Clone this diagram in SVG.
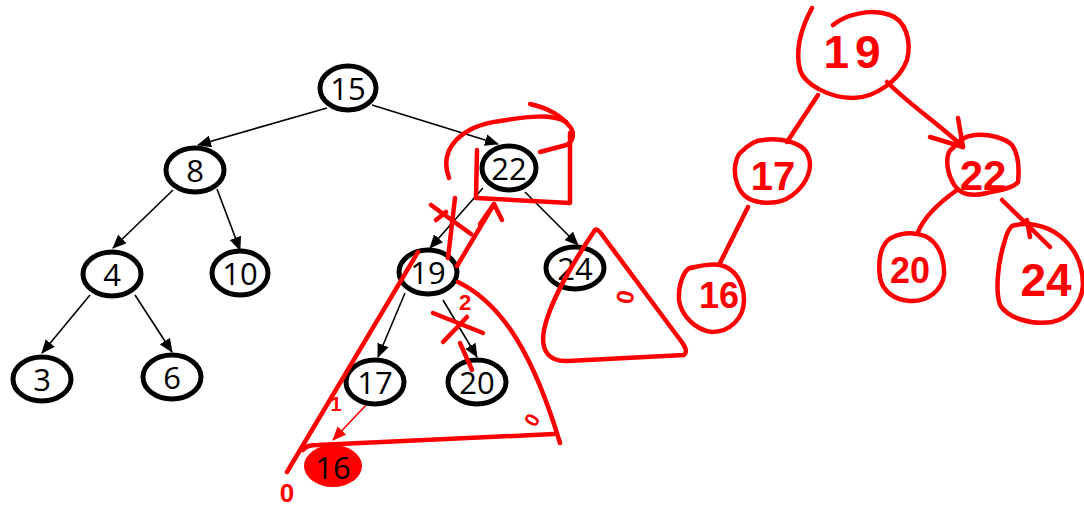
<svg xmlns="http://www.w3.org/2000/svg" width="1084" height="507" viewBox="0 0 1084 507">
<defs>
<marker id="ab" viewBox="0 0 14 12" refX="13" refY="6" markerWidth="14" markerHeight="12" markerUnits="userSpaceOnUse" orient="auto"><path d="M0,0 L14,6 L0,12 Z" fill="#000"/></marker>
<marker id="ar" viewBox="0 0 14 12" refX="13" refY="6" markerWidth="14" markerHeight="12" markerUnits="userSpaceOnUse" orient="auto"><path d="M0,0 L14,6 L0,12 Z" fill="#f00"/></marker>
</defs>
<style>
.n{fill:#fff;stroke:#000;stroke-width:5}
.t{font-family:"Open Sans","Liberation Sans",sans-serif;font-size:31px;fill:#000;text-anchor:middle;dominant-baseline:central}
.e{stroke:#000;stroke-width:1.6;fill:none;marker-end:url(#ab)}
.r{stroke:#f00;stroke-width:4.5;fill:none;stroke-linecap:round;stroke-linejoin:round}
.rt{font-family:"Liberation Sans",sans-serif;font-weight:bold;fill:#f00;text-anchor:middle;dominant-baseline:central}
</style>
<rect width="1084" height="507" fill="#fff"/>
<g id="connectors">
<line class="e" x1="327" y1="108" x2="198" y2="145"/>
<line class="e" x1="372" y1="105" x2="498" y2="144"/>
<line class="e" x1="173" y1="190" x2="113" y2="248"/>
<line class="e" x1="217" y1="189" x2="240" y2="250"/>
<line class="e" x1="90" y1="295" x2="42" y2="353"/>
<line class="e" x1="135" y1="295" x2="172" y2="352"/>
<line class="e" x1="483" y1="188" x2="430" y2="248"/>
<line class="e" x1="525" y1="192" x2="578" y2="245"/>
<line class="e" x1="405" y1="293" x2="378" y2="357"/>
<line class="e" x1="443" y1="300" x2="477" y2="357"/>
<line x1="368" y1="403" x2="333" y2="440" stroke="#f00" stroke-width="1.6" marker-end="url(#ar)"/>
</g>
<g id="n15"><ellipse class="n" cx="348" cy="88" rx="28" ry="22"/><text class="t" x="348" y="88">15</text></g>
<g id="n8"><ellipse class="n" cx="195" cy="170" rx="29" ry="22"/><text class="t" x="195" y="170">8</text></g>
<g id="n22"><ellipse class="n" cx="509" cy="168" rx="27" ry="22"/><text class="t" x="509" y="168">22</text></g>
<g id="n4"><ellipse class="n" cx="112" cy="274" rx="29" ry="22"/><text class="t" x="112" y="274">4</text></g>
<g id="n10"><ellipse class="n" cx="240" cy="273" rx="28" ry="22"/><text class="t" x="240" y="273">10</text></g>
<g id="n19"><ellipse class="n" cx="428" cy="272" rx="29" ry="22"/><text class="t" x="428" y="272">19</text></g>
<g id="n24"><ellipse class="n" cx="575" cy="268" rx="29" ry="21"/><text class="t" x="575" y="268">24</text></g>
<g id="n3"><ellipse class="n" cx="42" cy="379" rx="29" ry="22"/><text class="t" x="42" y="379">3</text></g>
<g id="n6"><ellipse class="n" cx="172" cy="377" rx="29" ry="22"/><text class="t" x="172" y="377">6</text></g>
<g id="n17"><ellipse class="n" cx="375" cy="382" rx="29" ry="22"/><text class="t" x="375" y="382">17</text></g>
<g id="n20"><ellipse class="n" cx="477" cy="382" rx="29" ry="22"/><text class="t" x="477" y="382">20</text></g>
<g id="n16"><ellipse cx="333" cy="466" rx="29" ry="21" fill="#f00"/><text class="t" x="333" y="467">16</text></g>
<g id="annotations">
<path class="r" d="M449,178 C438,148 462,126 500,121 C530,116 552,114 566,122"/>
<path class="r" d="M530,104 C548,108 562,116 571,128 C575,135 572,141 569,143"/>
<path class="r" d="M540,152 L570,144"/>
<path class="r" d="M477,150 L476,198 L570,203 L570,133"/>
<path class="r" d="M457,266 L494,204" stroke-width="5.5"/>
<path class="r" d="M494,204 L480,224 M494,204 L502,220"/>
<path class="r" d="M431,205 L471,234 M455,198 L448,258 M436,220 L446,212"/>
<path class="r" d="M418,252 L287,472"/>
<path class="r" d="M458,282 C505,305 535,360 560,443"/>
<path class="r" d="M303,450 C306,446 310,445 318,445 L554,434"/>
<path class="r" d="M433,313 L483,333 M467,317 L443,342 M460,343 L472,370" stroke-width="5.5"/>
<path class="r" d="M595,230 C578,255 550,300 544,330 C540,352 550,362 568,361 L684,355 C688,352 685,346 681,341 L600,232 C598,230 596,229 595,230 Z"/>
<text class="rt" x="465" y="302" font-size="22">2</text>
<text class="rt" x="336" y="404" font-size="20">1</text>
<text class="rt" x="287" y="493" font-size="26">0</text>
<text class="rt" x="532" y="420" font-size="20" transform="rotate(-60 532 420)">0</text>
<text class="rt" x="625" y="297" font-size="24" transform="rotate(-80 625 297)">0</text>
</g>
<g id="rtree-connectors">
<path class="r" d="M818,95 L787,142"/>
<path class="r" d="M748,207 L720,263"/>
<path class="r" d="M887,82 C910,105 940,125 963,147"/>
<path class="r" d="M930,137 L963,147 L958,118"/>
<path class="r" d="M957,190 C940,202 925,215 918,232"/>
<path class="r" d="M1002,200 L1050,247 M1027,220 L1030,237"/>
</g>
<g id="r19"><path class="r" d="M812,8 C800,30 795,50 800,70 C805,85 830,98 853,98 C875,98 900,80 907,60 C912,40 905,20 890,15 C870,8 845,15 833,25"/><text class="rt" x="855" y="52" font-size="46" letter-spacing="6">19</text></g>
<g id="r17"><path class="r" d="M740,153 C748,145 755,140 763,140 C775,138 790,140 800,146 C810,152 812,165 808,175 C803,188 790,200 777,202 C765,204 752,202 745,196 C738,190 734,178 735,167 C736,160 738,155 740,153"/><text class="rt" x="773" y="176" font-size="40">17</text></g>
<g id="r16"><path class="r" d="M690,268 C684,270 678,285 679,300 C681,315 695,330 712,332 C730,332 744,318 744,300 C744,283 735,268 720,265 C710,263 700,266 690,268"/><text class="rt" x="719" y="295" font-size="36">16</text></g>
<g id="r22"><path class="r" d="M953,148 C958,140 965,136 975,135 C990,134 1005,138 1012,145 C1019,155 1019,172 1018,182 C1014,188 1000,190 987,193 C975,196 962,196 955,186 C948,176 946,163 948,155 C949,151 951,149 953,148"/><text class="rt" x="983" y="175" font-size="42">22</text></g>
<g id="r20"><path class="r" d="M888,240 C880,248 878,262 880,278 C883,292 895,300 910,301 C928,302 942,290 944,275 C945,258 938,242 925,236 C912,231 898,233 888,240"/><text class="rt" x="910" y="270" font-size="36">20</text></g>
<g id="r24"><path class="r" d="M1005,240 C998,262 995,290 1000,305 C1008,318 1030,325 1052,322 C1072,318 1082,300 1083,285 C1083,265 1075,248 1060,236 C1045,224 1025,222 1012,226 C1008,230 1006,236 1005,240"/><text class="rt" x="1046" y="280" font-size="46">24</text></g>
</svg>
